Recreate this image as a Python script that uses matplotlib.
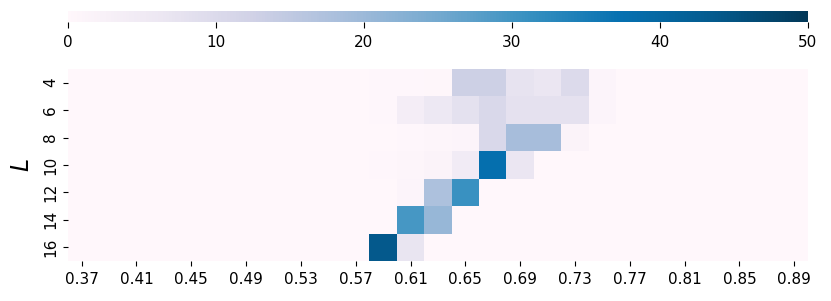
import numpy as np
import matplotlib
matplotlib.use("Agg")
import matplotlib.pyplot as plt
import seaborn as sns

# p values (columns) and system sizes L (rows)
p_values = [round(0.37 + 0.02 * i, 2) for i in range(27)]
L_values = [4, 6, 8, 10, 12, 14, 16]

# counts; columns 0.59 .. 0.75 carry the signal, rest ~0
row_L4 = [0] * 11 + [0.3, 0.2, 0.4, 13.0, 13.0, 7.6, 6.5, 9.8, 1.0] + [0] * 7
row_L6 = [0] * 11 + [0.3, 3.9, 6.0, 8.2, 10.7, 8.0, 8.0, 8.0, 1.0] + [0] * 7
row_L8 = [0] * 11 + [0.1, 0.3, 0.6, 1.0, 10.5, 18.6, 18.6, 1.5, 0] + [0] * 7
row_L10 = [0] * 11 + [0.2, 0.6, 1.5, 4.5, 37.8, 6.5, 0, 0, 0] + [0] * 7
row_L12 = [0] * 11 + [0.1, 1.0, 17.7, 31.0, 0, 0, 0, 0, 0] + [0] * 7
row_L14 = [0] * 11 + [0.1, 29.5, 20.7, 0, 0, 0, 0, 0, 0] + [0] * 7
row_L16 = [0] * 11 + [43.8, 7.0, 0, 0, 0, 0, 0, 0, 0] + [0] * 7

data = np.array([row_L4, row_L6, row_L8, row_L10, row_L12, row_L14, row_L16])

fig = plt.figure(figsize=(8.31, 3.01), dpi=100)
ax = fig.add_axes([0.0818, 0.1329, 0.8905, 0.638])
cax = fig.add_axes([0.0818, 0.9269, 0.8905, 0.0365])

sns.heatmap(data, ax=ax, cbar_ax=cax, cmap="PuBu", vmin=0, vmax=50,
            cbar_kws={"orientation": "horizontal", "ticks": [0, 10, 20, 30, 40, 50]})

ax.set_xticks(np.arange(0, 27, 2) + 0.5)
ax.set_xticklabels([f"{p:.2f}" for p in p_values[::2]], rotation=0, fontsize=11)
ax.set_yticks(np.arange(7) + 0.5)
ax.set_yticklabels([str(l) for l in L_values], rotation=90, va="center", fontsize=11)
ax.tick_params(axis="x", pad=4.5)
ax.set_ylabel("$L$", fontsize=17, labelpad=7)
ax.set_xlabel("")

cax.tick_params(labelsize=11, length=4.5, pad=5)

fig.savefig("out.png", dpi=100)
